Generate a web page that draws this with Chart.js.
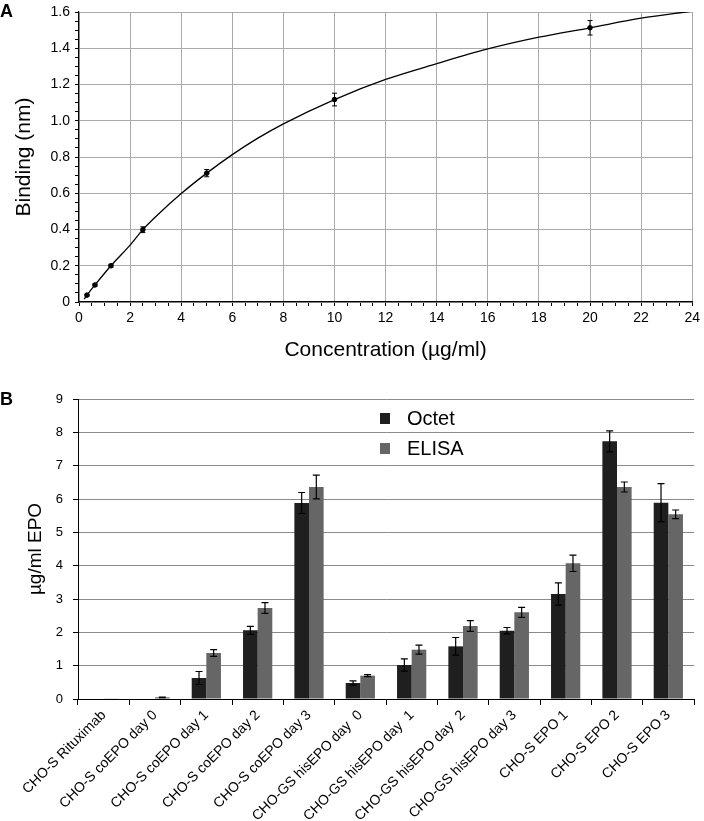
<!DOCTYPE html>
<html>
<head>
<meta charset="utf-8">
<script src="https://cdn.jsdelivr.net/npm/chart.js@4.4.1/dist/chart.umd.min.js"></script>
<style>
  body { margin: 0; background: #fff; }
  #lienzo { position: relative; width: 704px; height: 821px; background: #fff;
            font-family: "Liberation Sans", Arial, sans-serif; }
  .panel { position: absolute; left: 0; }
  .letra { position: absolute; left: 0; font-weight: bold; font-size: 18px; color: #000; }
</style>
</head>
<body>
<div id="lienzo">
  <canvas id="graficoA" class="panel" style="top:0" width="704" height="364"></canvas>
  <canvas id="graficoB" class="panel" style="top:364px" width="704" height="457"></canvas>
  <div class="letra" style="top:1px">A</div>
  <div class="letra" style="top:389px">B</div>
</div>

<script>
// Panel A: curva de union
const concentraciones = [0.3125, 0.625, 1.25, 2.5, 5, 10, 20];
const unionMedida = [0.038, 0.094, 0.2, 0.399, 0.711, 1.117, 1.513];
const errorUnion = [0.005, 0.006, 0.008, 0.016, 0.02, 0.035, 0.04];

// curva ajustada
const curvaX = [0.2, 0.3125, 0.625, 1.25, 2, 2.5, 3, 4, 5, 6, 7, 8, 10, 12, 14, 16, 18, 20, 22, 24];
const curvaY = [0.016, 0.038, 0.094, 0.2, 0.314, 0.399, 0.47, 0.598, 0.711, 0.813, 0.904, 0.983, 1.117, 1.228, 1.315, 1.396, 1.461, 1.513, 1.566, 1.605];

// Panel B: EPO por muestra
const muestras = ['CHO-S Rituximab', 'CHO-S coEPO day 0', 'CHO-S coEPO day 1', 'CHO-S coEPO day 2',
  'CHO-S coEPO day 3', 'CHO-GS hisEPO day  0', 'CHO-GS hisEPO day  1', 'CHO-GS hisEPO day  2',
  'CHO-GS hisEPO day 3', 'CHO-S EPO 1', 'CHO-S EPO 2', 'CHO-S EPO 3'];
const octet = [0, 0, 0.63, 2.06, 5.88, 0.48, 1.02, 1.58, 2.05, 3.15, 7.73, 5.89];
const errorOctet = [0, 0, 0.195, 0.12, 0.315, 0.065, 0.185, 0.265, 0.095, 0.335, 0.315, 0.57];
const elisa = [0.01, 0.05, 1.38, 2.73, 6.36, 0.7, 1.48, 2.19, 2.6, 4.07, 6.36, 5.54];
const errorElisa = [0, 0.01, 0.1, 0.16, 0.355, 0.03, 0.135, 0.16, 0.15, 0.245, 0.15, 0.13];

Chart.defaults.font.family = '"Liberation Sans", Arial, sans-serif';
Chart.defaults.color = '#000';

function esMultiplo(v, paso) {
    return Math.abs(v / paso - Math.round(v / paso)) < 1e-6;
}

// dibuja las barras de error con las escalas del grafico
const barrasError = {
    id: 'barrasError',
    afterDatasetsDraw(chart, args, opts) {
        const ctx = chart.ctx;
        const escalaY = chart.scales.y;
        ctx.save();
        ctx.strokeStyle = '#000';
        ctx.lineWidth = opts.grosor || 1;
        chart.data.datasets.forEach((ds, i) => {
            if (!ds.errores) return;
            const meta = chart.getDatasetMeta(i);
            meta.data.forEach((el, j) => {
                const e = ds.errores[j];
                if (!e) return;
                const valor = typeof ds.data[j] === 'object' ? ds.data[j].y : ds.data[j];
                const yArriba = escalaY.getPixelForValue(valor + e);
                const yAbajo = escalaY.getPixelForValue(valor - e);
                const m = opts.tapa;
                ctx.beginPath();
                ctx.moveTo(el.x, yArriba); ctx.lineTo(el.x, yAbajo);
                ctx.moveTo(el.x - m, yArriba); ctx.lineTo(el.x + m, yArriba);
                ctx.moveTo(el.x - m, yAbajo); ctx.lineTo(el.x + m, yAbajo);
                ctx.stroke();
            });
        });
        ctx.restore();
    }
};

// leyenda dentro del area del grafico B
const leyendaB = {
    id: 'leyendaB',
    afterDraw(chart, args, opts) {
        const { ctx, chartArea } = chart;
        ctx.save();
        ctx.font = '20px "Liberation Sans", Arial, sans-serif';
        ctx.textBaseline = 'middle';
        chart.data.datasets.forEach((ds, i) => {
            const y = chartArea.top + opts.arriba + i * opts.paso;
            ctx.fillStyle = ds.backgroundColor;
            ctx.fillRect(chartArea.left + opts.izquierda, y - 5, 10, 11);
            ctx.fillStyle = '#000';
            ctx.fillText(ds.label, chartArea.left + opts.izquierda + 27, y + 1);
        });
        ctx.restore();
    }
};

new Chart(document.getElementById('graficoA'), {
    type: 'scatter',
    data: {
        datasets: [{
            label: 'ajuste',
            data: curvaX.map((x, i) => ({ x: x, y: curvaY[i] })),
            showLine: true,
            borderColor: '#000',
            borderWidth: 1.3,
            pointRadius: 0,
            cubicInterpolationMode: 'monotone'
        }, {
            label: 'medida',
            data: concentraciones.map((x, i) => ({ x: x, y: unionMedida[i] })),
            errores: errorUnion,
            showLine: false,
            pointRadius: 2.3,
            backgroundColor: '#000',
            borderColor: '#000'
        }]
    },
    options: {
        responsive: false,
        animation: false,
        layout: { padding: { top: 7, right: 8, left: 0, bottom: 0 } },
        plugins: {
            legend: { display: false },
            tooltip: { enabled: false },
            barrasError: { tapa: 2.5, grosor: 1 }
        },
        scales: {
            x: {
                type: 'linear', min: 0, max: 24,
                ticks: {
                    stepSize: 0.5, autoSkip: false, maxRotation: 0, minRotation: 0,
                    font: { size: 14 }, padding: 4,
                    callback: v => esMultiplo(v, 2) ? String(Math.round(v)) : ''
                },
                grid: {
                    color: c => esMultiplo(c.tick.value, 2) ? '#aaaaaa' : 'rgba(0,0,0,0)',
                    tickColor: '#000', tickLength: 4
                },
                border: { color: '#000', width: 1.2 },
                title: { display: true, text: 'Concentration (µg/ml)', font: { size: 21 }, padding: { top: 0, bottom: 1 } },
                afterFit: s => { s.height = 62; }
            },
            y: {
                min: 0, max: 1.6,
                ticks: {
                    stepSize: 0.05, autoSkip: false,
                    font: { size: 14, lineHeight: 1 }, padding: 5,
                    callback: v => esMultiplo(v, 0.2) ? (Math.abs(v) < 1e-9 ? '0' : v.toFixed(1)) : ''
                },
                grid: {
                    color: c => esMultiplo(c.tick.value, 0.2) ? '#aaaaaa' : 'rgba(0,0,0,0)',
                    tickColor: '#000', tickLength: 4
                },
                border: { color: '#000', width: 1.2 },
                title: { display: true, text: 'Binding (nm)', font: { size: 21 }, padding: { top: 12, bottom: 0 } },
                afterFit: s => { s.width = 79; }
            }
        }
    },
    plugins: [barrasError]
});

new Chart(document.getElementById('graficoB'), {
    type: 'bar',
    data: {
        labels: muestras,
        datasets: [{
            label: 'Octet',
            data: octet,
            errores: errorOctet,
            backgroundColor: '#1f1f1f'
        }, {
            label: 'ELISA',
            data: elisa,
            errores: errorElisa,
            backgroundColor: '#666666'
        }]
    },
    options: {
        responsive: false,
        animation: false,
        categoryPercentage: 0.57,
        barPercentage: 1.0,
        layout: { padding: { top: 35, right: 10, left: 0, bottom: 0 } },
        plugins: {
            legend: { display: false },
            tooltip: { enabled: false },
            barrasError: { tapa: 3.5, grosor: 1.2 },
            leyendaB: { izquierda: 302, arriba: 19, paso: 30 }
        },
        scales: {
            x: {
                ticks: { font: { size: 14 }, maxRotation: 45, minRotation: 45, autoSkip: false, padding: 2 },
                grid: { offset: true, drawOnChartArea: false, color: '#000', tickLength: 6 },
                border: { color: '#000' },
                afterFit: s => { s.height = 122; }
            },
            y: {
                min: 0, max: 9,
                ticks: { stepSize: 1, font: { size: 13, lineHeight: 1 }, padding: 10 },
                grid: { color: '#8a8a8a', tickColor: '#000', tickLength: 5 },
                border: { color: '#000' },
                title: { display: true, text: 'µg/ml EPO', font: { size: 19 }, padding: { top: 24, bottom: 0 } },
                afterFit: s => { s.width = 78; }
            }
        }
    },
    plugins: [barrasError, leyendaB]
});
</script>
</body>
</html>
